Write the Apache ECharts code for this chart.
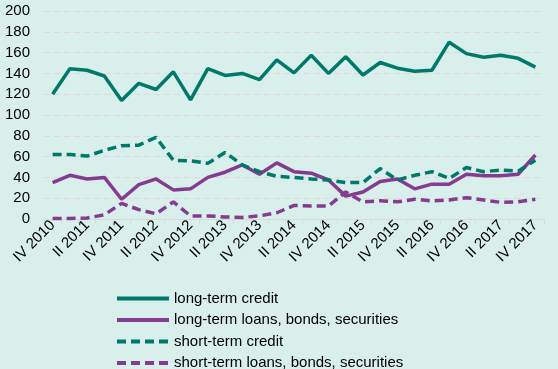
<!DOCTYPE html>
<html><head><meta charset="utf-8">
<script src="https://cdn.jsdelivr.net/npm/echarts@6/dist/echarts.min.js"></script>
<style>html,body{margin:0;padding:0;background:#D8EFEC;}#c{width:558px;height:369px;}</style>
</head><body><div id="c"></div>
<script>
const categories = ["IV 2010","I 2011","II 2011","III 2011","IV 2011","I 2012","II 2012","III 2012","IV 2012","I 2013","II 2013","III 2013","IV 2013","I 2014","II 2014","III 2014","IV 2014","I 2015","II 2015","III 2015","IV 2015","I 2016","II 2016","III 2016","IV 2016","I 2017","II 2017","III 2017","IV 2017"];
const longTermCredit = [120,144.5,143,137.5,114,130.5,124.5,141.5,114.5,144.5,138,140,134,153,140.5,157.5,140,156,138.5,150.5,145,142,143,170,159,155.5,157.5,154.5,146];
const longTermLoans = [35,42,38.5,40,19,33,38.5,28,29,40,45,52,43,54,45.5,44,37.5,22,26,36,38.5,29,33.5,33.5,43,41.5,41.5,43,61.5];
const shortTermCredit = [62,62,60.5,66,70.5,71,78.5,56.5,56,53.5,64,52,45.5,41,40,38.5,37.5,35,35,48.5,37.5,42,45.5,39,49.5,45.5,47,46,56.5];
const shortTermLoans = [0.5,0.5,1,4,15,9,5,16.5,3,3,2,1.5,3,6,13,12.5,12.5,26,16.5,17.5,16.5,19,17.3,18.3,20.5,18.3,16,16.5,19];
const yTicks = [0,20,40,60,80,100,120,140,160,180,200];

const teal = '#00796B', purple = '#843C91';
const chart = echarts.init(document.getElementById('c'));
const mk = (name, data, color, dashed) => ({
  name, type:'line', data, symbol:'none', showSymbol:false, smooth:false,
  lineStyle:{color, width:3.5, type: dashed ? [9,5] : 'solid'},
  itemStyle:{color}
});
chart.setOption({
  backgroundColor:'#D8EFEC',
  animation:false,
  textStyle:{fontFamily:'Liberation Sans, Arial, sans-serif'},
  grid:{left:44, right:14, top:11, bottom:150, containLabel:false},
  legend:{
    orient:'vertical', left:110, top:286, height:90, itemWidth:52, itemHeight:12, itemGap:6.5,
    itemStyle:{opacity:0},
    lineStyle:{width:4},
    textStyle:{fontSize:15, color:'#000', fontFamily:'Liberation Sans, Arial, sans-serif'},
    data:['long-term credit','long-term loans, bonds, securities','short-term credit','short-term loans, bonds, securities']
  },
  xAxis:{
    type:'category', data:categories, boundaryGap:true,
    axisLine:{lineStyle:{color:'#D9D9D9'}},
    axisTick:{show:true, interval:0, length:5, lineStyle:{color:'#D9D9D9'}},
    axisLabel:{interval:1, rotate:45, fontSize:15, color:'#000', margin:4}
  },
  yAxis:{
    type:'value', min:yTicks[0], max:yTicks[yTicks.length-1], interval:20,
    axisLine:{show:false}, axisTick:{show:false},
    axisLabel:{fontSize:15, color:'#000', margin:14},
    splitLine:{lineStyle:{color:'#E3D6D8', type:[6,4], width:1}}
  },
  series:[
    mk('long-term credit', longTermCredit, teal, false),
    mk('long-term loans, bonds, securities', longTermLoans, purple, false),
    mk('short-term credit', shortTermCredit, teal, true),
    mk('short-term loans, bonds, securities', shortTermLoans, purple, true)
  ]
});
</script></body></html>
